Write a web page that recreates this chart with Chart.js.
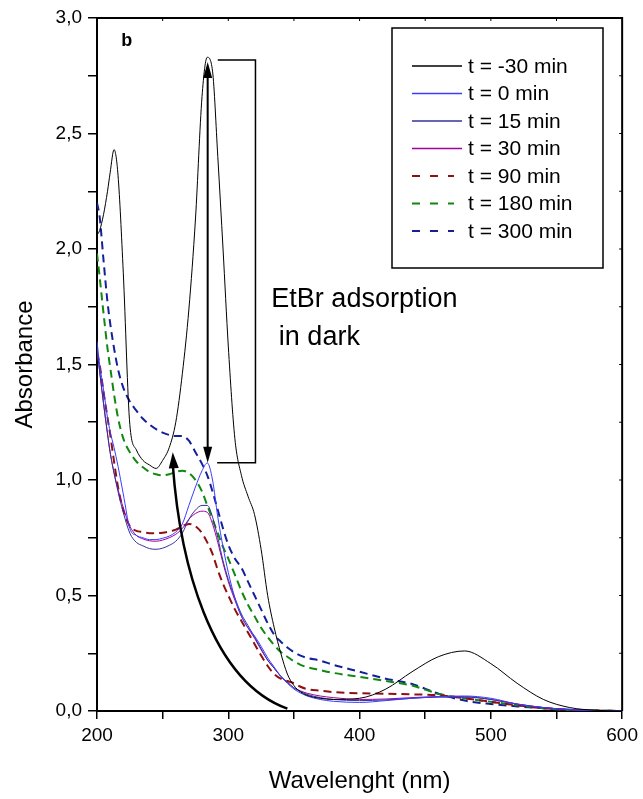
<!DOCTYPE html>
<html>
<head>
<meta charset="utf-8">
<script src="https://cdn.jsdelivr.net/npm/chart.js@4.4.0/dist/chart.umd.min.js"></script>
<style>
  html, body { margin: 0; padding: 0; background: #fff; }
  canvas { display: block; }
</style>
</head>
<body>
<canvas id="uvChart" width="643" height="799"></canvas>
<script>
// wavelength grid (nm) shared by all spectra
const wavelength = [200, 202, 205, 208, 210, 213, 216, 220, 225, 230, 235, 240, 245, 250, 255, 260, 265, 270, 275, 280,
  284, 288, 292, 296, 300, 305, 310, 315, 320, 325, 330, 335, 340, 345, 350, 355, 360, 370, 380, 400,
  420, 440, 460, 480, 500, 520, 540, 560, 580, 600];

const absMinus30 = [2.06, 2.08, 2.15, 2.25, 2.33, 2.43, 2.32, 1.90, 1.24, 1.13, 1.085, 1.065, 1.05, 1.085, 1.14, 1.25, 1.46, 1.74, 2.13, 2.66,
  2.83, 2.77, 2.40, 2.00, 1.58, 1.18, 1.02, 0.93, 0.85, 0.70, 0.50, 0.36, 0.25, 0.16, 0.11, 0.083, 0.068, 0.055, 0.05, 0.055,
  0.095, 0.17, 0.235, 0.26, 0.205, 0.12, 0.05, 0.015, 0.003, 0.0];
const abs0 = [1.60, 1.50, 1.39, 1.27, 1.21, 1.14, 1.06, 0.94, 0.79, 0.76, 0.75, 0.742, 0.742, 0.748, 0.757, 0.775, 0.81, 0.89, 0.97, 1.04,
  1.074, 1.00, 0.84, 0.71, 0.60, 0.49, 0.41, 0.36, 0.325, 0.28, 0.23, 0.19, 0.15, 0.12, 0.095, 0.078, 0.065, 0.05, 0.042, 0.037,
  0.045, 0.055, 0.062, 0.065, 0.055, 0.03, 0.015, 0.006, 0.002, 0.0];
const abs15 = [1.57, 1.47, 1.33, 1.20, 1.12, 1.03, 0.95, 0.86, 0.77, 0.73, 0.715, 0.703, 0.70, 0.705, 0.717, 0.735, 0.77, 0.83, 0.87, 0.89,
  0.89, 0.84, 0.75, 0.65, 0.57, 0.49, 0.42, 0.37, 0.32, 0.27, 0.22, 0.185, 0.15, 0.125, 0.10, 0.085, 0.072, 0.058, 0.05, 0.045,
  0.048, 0.055, 0.06, 0.06, 0.05, 0.03, 0.015, 0.006, 0.002, 0.0];
const abs30 = [1.57, 1.47, 1.33, 1.20, 1.12, 1.03, 0.96, 0.88, 0.80, 0.76, 0.745, 0.737, 0.735, 0.74, 0.75, 0.765, 0.79, 0.83, 0.855, 0.865,
  0.86, 0.81, 0.73, 0.64, 0.56, 0.48, 0.41, 0.36, 0.315, 0.265, 0.22, 0.185, 0.15, 0.125, 0.10, 0.087, 0.077, 0.065, 0.058, 0.05,
  0.052, 0.058, 0.062, 0.062, 0.05, 0.03, 0.015, 0.006, 0.002, 0.0];
const abs90 = [1.55, 1.50, 1.38, 1.27, 1.20, 1.08, 0.97, 0.87, 0.80, 0.78, 0.775, 0.77, 0.77, 0.772, 0.777, 0.785, 0.80, 0.81, 0.80, 0.77,
  0.73, 0.68, 0.61, 0.55, 0.50, 0.44, 0.39, 0.34, 0.29, 0.24, 0.195, 0.16, 0.14, 0.13, 0.12, 0.105, 0.095, 0.088, 0.082, 0.077,
  0.075, 0.072, 0.068, 0.055, 0.04, 0.025, 0.012, 0.005, 0.002, 0.0];
const abs180 = [1.98, 1.88, 1.72, 1.57, 1.49, 1.37, 1.27, 1.18, 1.12, 1.08, 1.055, 1.035, 1.025, 1.02, 1.025, 1.035, 1.04, 1.03, 1.00, 0.95,
  0.89, 0.83, 0.77, 0.71, 0.66, 0.59, 0.52, 0.46, 0.41, 0.36, 0.32, 0.285, 0.255, 0.235, 0.215, 0.20, 0.19, 0.177, 0.165, 0.148,
  0.13, 0.11, 0.075, 0.055, 0.04, 0.025, 0.012, 0.005, 0.002, 0.0];
const abs300 = [2.20, 2.14, 1.95, 1.77, 1.68, 1.57, 1.48, 1.40, 1.34, 1.30, 1.265, 1.24, 1.22, 1.205, 1.195, 1.19, 1.19, 1.17, 1.12, 1.07,
  1.02, 0.95, 0.87, 0.79, 0.72, 0.66, 0.62, 0.56, 0.50, 0.44, 0.38, 0.33, 0.30, 0.275, 0.255, 0.24, 0.23, 0.218, 0.20, 0.17,
  0.14, 0.117, 0.075, 0.045, 0.03, 0.02, 0.012, 0.005, 0.002, 0.0];

const seriesLabels = ['t = -30 min', 't = 0 min', 't = 15 min', 't = 30 min', 't = 90 min', 't = 180 min', 't = 300 min'];
const seriesValues = [absMinus30, abs0, abs15, abs30, abs90, abs180, abs300];
const seriesColors = ['#000000', '#3c3cff', '#333399', '#a000a0', '#8f1010', '#118811', '#14209a'];
const seriesDashed = [false, false, false, false, true, true, true];

const dashPattern = [8, 5];

const datasets = seriesLabels.map(function(label, i) {
    return {
        label: label,
        data: wavelength.map(function(w, j) { return { x: w, y: seriesValues[i][j] }; }),
        borderColor: seriesColors[i],
        borderWidth: seriesDashed[i] ? 2 : 1,
        borderDash: seriesDashed[i] ? dashPattern : [],
        pointRadius: 0,
        fill: false,
        cubicInterpolationMode: 'monotone'
    };
});

function drawArrowHead(ctx, tipX, tipY, fromX, fromY, len, halfW) {
    const ang = Math.atan2(tipY - fromY, tipX - fromX);
    ctx.beginPath();
    ctx.moveTo(tipX, tipY);
    ctx.lineTo(tipX - len * Math.cos(ang) + halfW * Math.sin(ang), tipY - len * Math.sin(ang) - halfW * Math.cos(ang));
    ctx.lineTo(tipX - len * Math.cos(ang) - halfW * Math.sin(ang), tipY - len * Math.sin(ang) + halfW * Math.cos(ang));
    ctx.closePath();
    ctx.fill();
}

// frame, annotations and the boxed legend
const decorPlugin = {
    id: 'decor',
    afterDraw: function(chart) {
        const ctx = chart.ctx;
        const xs = chart.scales.x, ys = chart.scales.y;
        const a = chart.chartArea;
        const px = function(v) { return xs.getPixelForValue(v); };
        const py = function(v) { return ys.getPixelForValue(v); };

        ctx.save();
        ctx.strokeStyle = '#000';
        ctx.fillStyle = '#000';

        // top and right frame
        ctx.lineWidth = 2;
        ctx.beginPath();
        ctx.moveTo(a.left, a.top);
        ctx.lineTo(a.right, a.top);
        ctx.lineTo(a.right, a.bottom);
        ctx.stroke();
        ctx.lineWidth = 1;
        ctx.beginPath();
        for (let w = 250; w < 600; w += 50) {
            ctx.moveTo(px(w), a.top);
            ctx.lineTo(px(w), a.top + 3);
        }
        for (let v = 0.25; v < 3; v += 0.25) {
            ctx.moveTo(a.right, py(v));
            ctx.lineTo(a.right - 3, py(v));
        }
        ctx.stroke();

        // panel letter
        ctx.font = 'bold 18px "Liberation Sans", Arial, sans-serif';
        ctx.textBaseline = 'middle';
        ctx.textAlign = 'left';
        ctx.fillText('b', px(218.5), py(2.9));

        // bracket
        ctx.lineWidth = 1.5;
        ctx.beginPath();
        ctx.moveTo(px(292), py(2.818));
        ctx.lineTo(px(320.7), py(2.818));
        ctx.lineTo(px(320.7), py(1.075));
        ctx.lineTo(px(291.5), py(1.075));
        ctx.stroke();

        // double arrow
        const ax = px(284.3);
        ctx.lineWidth = 2;
        ctx.beginPath();
        ctx.moveTo(ax, py(2.76));
        ctx.lineTo(ax, py(1.12));
        ctx.stroke();
        drawArrowHead(ctx, ax, py(2.81), ax, py(2.5), 16, 4.5);
        drawArrowHead(ctx, ax, py(1.075), ax, py(1.5), 16, 4.5);

        // curved arrow
        const c0 = [px(345), py(0.01)], c1 = [px(286), py(0.13)], c2 = [px(263), py(0.65)], c3 = [px(257.7), py(1.12)];
        ctx.lineWidth = 2.5;
        ctx.beginPath();
        ctx.moveTo(c0[0], c0[1]);
        ctx.bezierCurveTo(c1[0], c1[1], c2[0], c2[1], c3[0], c3[1] + 12);
        ctx.stroke();
        drawArrowHead(ctx, c3[0], c3[1], c2[0], c2[1], 16, 5);

        // note text
        ctx.font = '27px "Liberation Sans", Arial, sans-serif';
        ctx.textBaseline = 'middle';
        ctx.fillText('EtBr adsorption', px(332.8), py(1.78));
        ctx.fillText(' in dark', px(332.8), py(1.615));

        // legend box
        const lx = 392, ly = 28, lw = 211, lh = 240;
        ctx.fillStyle = '#fff';
        ctx.fillRect(lx, ly, lw, lh);
        ctx.strokeStyle = '#000';
        ctx.lineWidth = 1.5;
        ctx.strokeRect(lx, ly, lw, lh);
        ctx.font = '21px "Liberation Sans", Arial, sans-serif';
        chart.data.datasets.forEach(function(ds, i) {
            const ry = 66 + i * 27.5;
            ctx.strokeStyle = ds.borderColor;
            ctx.lineWidth = seriesDashed[i] ? 2 : 1.5;
            ctx.setLineDash(seriesDashed[i] ? [8, 10] : []);
            ctx.beginPath();
            ctx.moveTo(412, ry);
            ctx.lineTo(seriesDashed[i] ? 454 : 462, ry);
            ctx.stroke();
            ctx.setLineDash([]);
            ctx.fillStyle = '#000';
            ctx.fillText(ds.label, 468, ry + 1);
        });
        ctx.restore();
    }
};

const tickFont = { family: '"Liberation Sans", Arial, sans-serif', size: 19 };
const titleFont = { family: '"Liberation Sans", Arial, sans-serif', size: 24 };

new Chart(document.getElementById('uvChart').getContext('2d'), {
    type: 'line',
    data: { datasets: datasets },
    options: {
        responsive: false,
        animation: false,
        events: [],
        layout: { padding: { top: 18, right: 19, left: 0, bottom: 0 } },
        plugins: { legend: { display: false }, tooltip: { enabled: false } },
        scales: {
            x: {
                type: 'linear',
                min: 200,
                max: 600,
                afterFit: function(scale) { scale.height = 88; },
                ticks: {
                    stepSize: 50,
                    autoSkip: false,
                    maxRotation: 0,
                    color: '#000',
                    font: tickFont,
                    padding: 5,
                    callback: function(v) { return v % 100 === 0 ? String(v) : ''; }
                },
                grid: { drawOnChartArea: false, drawTicks: true, tickLength: 8, color: '#000', lineWidth: 1.5 },
                border: { display: true, color: '#000', width: 2 },
                title: { display: true, text: 'Wavelenght (nm)', color: '#000', font: titleFont, padding: { top: 0, bottom: 3 } }
            },
            y: {
                type: 'linear',
                min: 0,
                max: 3,
                afterFit: function(scale) { scale.width = 97; },
                ticks: {
                    stepSize: 0.25,
                    autoSkip: false,
                    color: '#000',
                    font: tickFont,
                    padding: 6,
                    callback: function(v) {
                        return Math.abs(v * 2 - Math.round(v * 2)) < 1e-6 ? v.toFixed(1).replace('.', ',') : '';
                    }
                },
                grid: { drawOnChartArea: false, drawTicks: true, tickLength: 9, color: '#000', lineWidth: 1.5 },
                border: { display: true, color: '#000', width: 2 },
                title: { display: true, text: 'Absorbance', color: '#000', font: titleFont, padding: { top: 11, bottom: 0 } }
            }
        }
    },
    plugins: [decorPlugin]
});
</script>
</body>
</html>
